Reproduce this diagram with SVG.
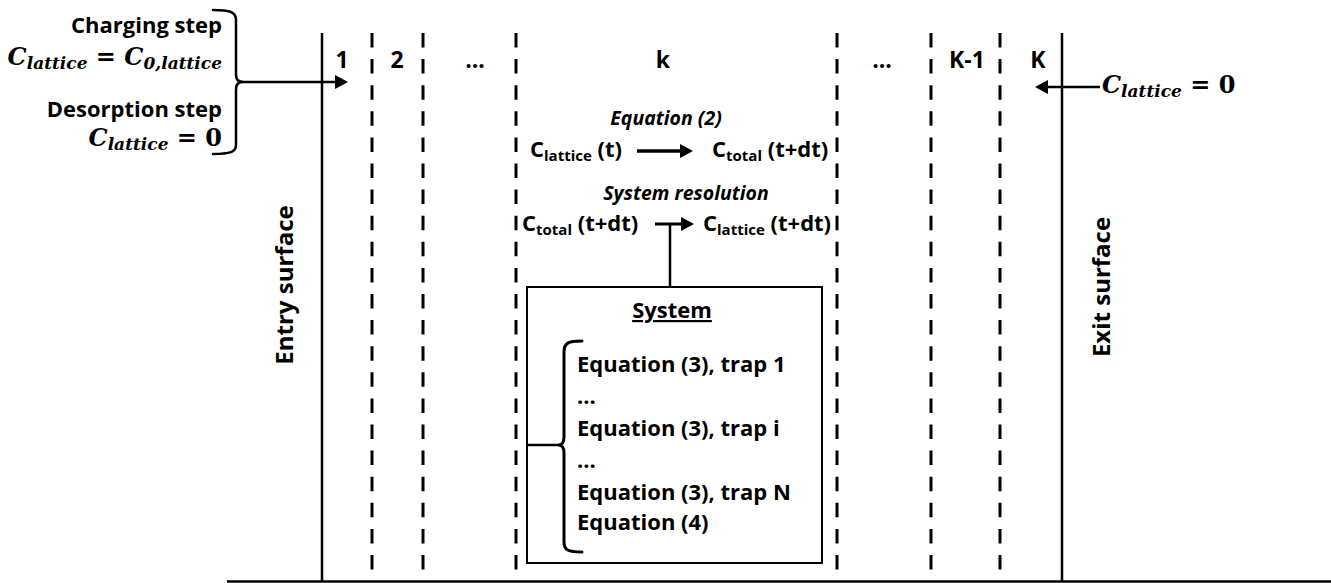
<svg xmlns="http://www.w3.org/2000/svg" width="1331" height="583" viewBox="0 0 1331 583">
<style>
.t{font-family:"Open Sans","Liberation Sans",sans-serif;font-weight:bold;font-size:22px;fill:#000}
.it{font-style:italic;font-size:19.5px}
.vt{font-size:24px}
.cl{font-size:23px}
.m{font-family:"DejaVu Serif","Liberation Serif",serif;font-weight:bold;font-style:italic;font-size:24px;fill:#000}
.mn{font-style:normal}
.ms{font-size:17px}
.sub{font-size:15px}
.solid{stroke:#000;stroke-width:2.5;fill:none}
.dash{stroke:#000;stroke-width:3;stroke-dasharray:14.5 11.6;fill:none}
.ln{stroke:#000;stroke-width:2.5;fill:none}
.br{stroke:#000;stroke-width:2.5;fill:none;stroke-linecap:round}
</style>
<defs>
<marker id="ah" markerUnits="userSpaceOnUse" markerWidth="13" markerHeight="14" refX="0" refY="7" orient="auto">
<path d="M0,0 L13,7 L0,14 z" fill="#000"/>
</marker>
</defs>
<g id="boundaries">
<line class="solid" x1="322" y1="33" x2="322" y2="582"/>
<line class="solid" x1="1062" y1="33" x2="1062" y2="582"/>
<line class="dash" x1="372" y1="33" x2="372" y2="581"/>
<line class="dash" x1="423" y1="33" x2="423" y2="581"/>
<line class="dash" x1="516" y1="33" x2="516" y2="581"/>
<line class="dash" x1="837" y1="33" x2="837" y2="581"/>
<line class="dash" x1="931" y1="33" x2="931" y2="581"/>
<line class="dash" x1="1000" y1="33" x2="1000" y2="581"/>
<line class="solid" x1="227" y1="581.5" x2="1331" y2="581.5"/>
</g>
<g id="column-labels" class="t cl" text-anchor="middle">
<text x="342" y="68">1</text>
<text x="397" y="68">2</text>
<text x="475" y="68">...</text>
<text x="663" y="68">k</text>
<text x="882" y="68">...</text>
<text x="967" y="68">K-1</text>
<text x="1038" y="68">K</text>
</g>
<g id="entry-condition">
<text class="t" x="222" y="33" text-anchor="end">Charging step</text>
<text class="m" x="222" y="65" text-anchor="end">C<tspan class="ms" dy="4">lattice</tspan><tspan class="mn" dy="-4"> = </tspan>C<tspan class="ms" dy="4">0,lattice</tspan></text>
<text class="t" x="222" y="117" text-anchor="end">Desorption step</text>
<text class="m" x="222" y="146" text-anchor="end">C<tspan class="ms" dy="4">lattice</tspan><tspan class="mn" dy="-4"> = 0</tspan></text>
<path class="br" d="M213,10 C230,10 236,12 236,20 L236,74 C236,80 238,82 244,82 C238,82 236,84 236,90 L236,145 C236,152 230,154 213,154"/>
</g>
<g id="exit-condition">
<text class="m" x="1102" y="93">C<tspan class="ms" dy="4">lattice</tspan><tspan class="mn" dy="-4"> = 0</tspan></text>
</g>
<g id="entry-surface">
<text class="t vt" transform="translate(293,285) rotate(-90)" text-anchor="middle">Entry surface</text>
</g>
<g id="exit-surface">
<text class="t vt" transform="translate(1110,287) rotate(-90)" text-anchor="middle">Exit surface</text>
</g>
<g id="equation2">
<text class="t it" x="666" y="125" text-anchor="middle">Equation (2)</text>
<text class="t" x="530" y="157">C<tspan class="sub" dy="4">lattice</tspan><tspan dy="-4"> (t)</tspan></text>
<text class="t" x="712" y="157">C<tspan class="sub" dy="4">total</tspan><tspan dy="-4"> (t+dt)</tspan></text>
</g>
<g id="system-resolution">
<text class="t it" x="686" y="200" text-anchor="middle">System resolution</text>
<text class="t" x="522" y="231">C<tspan class="sub" dy="4">total</tspan><tspan dy="-4"> (t+dt)</tspan></text>
<text class="t" x="703" y="231">C<tspan class="sub" dy="4">lattice</tspan><tspan dy="-4"> (t+dt)</tspan></text>
</g>
<g id="system-box">
<rect x="527" y="287" width="295" height="276" fill="none" stroke="#000" stroke-width="2"/>
<text class="t" x="672" y="318" text-anchor="middle" text-decoration="underline">System</text>
<path class="br" style="stroke-width:3" d="M582,341 C568,341 564,343 564,352 L564,437 C564,443 562,445 558,445 C562,445 564,447 564,453 L564,542 C564,550 568,552 582,552"/>
<text class="t" x="577" y="372">Equation (3), trap 1</text>
<text class="t" x="577" y="404">...</text>
<text class="t" x="577" y="436">Equation (3), trap i</text>
<text class="t" x="577" y="468">...</text>
<text class="t" x="577" y="500">Equation (3), trap N</text>
<text class="t" x="577" y="530">Equation (4)</text>
</g>
<g id="connectors">
<line class="ln" x1="244" y1="82" x2="335" y2="82" marker-end="url(#ah)"/>
<line class="ln" x1="1100" y1="87" x2="1048" y2="87" marker-end="url(#ah)"/>
<line x1="637" y1="151" x2="680" y2="151" stroke="#000" stroke-width="3.5" marker-end="url(#ah)"/>
<line x1="655" y1="224" x2="681" y2="224" stroke="#000" stroke-width="3" marker-end="url(#ah)"/>
<line class="ln" x1="670" y1="224" x2="670" y2="287"/>
<line class="ln" x1="527" y1="445" x2="558" y2="445"/>
</g>
</svg>
